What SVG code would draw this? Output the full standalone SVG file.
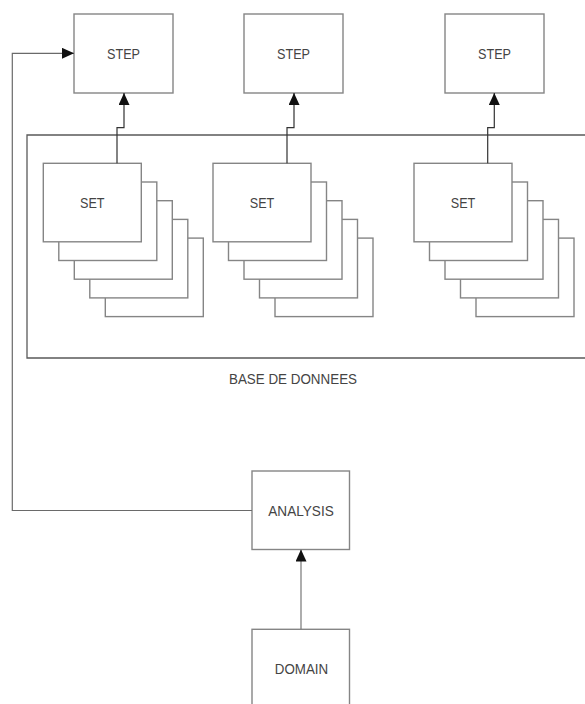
<svg xmlns="http://www.w3.org/2000/svg" width="585" height="704" viewBox="0 0 585 704">
  <style>
    .box { fill: #ffffff; stroke: #858585; stroke-width: 1.4; }
    .frame { fill: none; stroke: #5a5a5a; stroke-width: 1.3; }
    .conn { fill: none; stroke: #333333; stroke-width: 1.2; }
    .lbl { font-family: "Liberation Sans", Arial, sans-serif; font-size: 15px; fill: #444444; text-anchor: middle; dominant-baseline: central; }
  </style>
  <defs>
    <marker id="arrow" viewBox="0 0 12 11" refX="12" refY="5.5" markerWidth="12" markerHeight="11" markerUnits="userSpaceOnUse" orient="auto">
      <path d="M0,0 L12,5.5 L0,11 z" fill="#111111"/>
    </marker>
    <!-- stack of five sheets; the front one carries the label -->
    <g id="sheetStack">
      <rect class="box" x="62" y="74.8" width="98" height="78.5"/>
      <rect class="box" x="46.5" y="56.1" width="98" height="78.5"/>
      <rect class="box" x="31" y="37.4" width="98" height="78.5"/>
      <rect class="box" x="15.5" y="18.7" width="98" height="78.5"/>
      <rect class="box" x="0" y="0" width="98" height="78.5"/>
    </g>
  </defs>

  <rect width="585" height="704" fill="#ffffff"/>

  <!-- database frame, open on the right -->
  <g id="database">
    <path class="frame" d="M586,135 H27 V358 H586"/>
    <text class="lbl" x="293" y="378" textLength="128" lengthAdjust="spacingAndGlyphs">BASE DE DONNEES</text>
  </g>

  <g id="step1">
    <rect class="box" x="74" y="14" width="99" height="79"/>
    <text class="lbl" x="123.5" y="53" textLength="33" lengthAdjust="spacingAndGlyphs">STEP</text>
  </g>
  <g id="step2">
    <rect class="box" x="244" y="14" width="99" height="79"/>
    <text class="lbl" x="293.5" y="53" textLength="33" lengthAdjust="spacingAndGlyphs">STEP</text>
  </g>
  <g id="step3">
    <rect class="box" x="445" y="14" width="99" height="79"/>
    <text class="lbl" x="494.5" y="53" textLength="33" lengthAdjust="spacingAndGlyphs">STEP</text>
  </g>

  <g id="set1">
    <use href="#sheetStack" x="43.3" y="163.3"/>
    <text class="lbl" x="92.3" y="202" textLength="24.5" lengthAdjust="spacingAndGlyphs">SET</text>
  </g>
  <g id="set2">
    <use href="#sheetStack" x="213" y="163.3"/>
    <text class="lbl" x="262" y="202" textLength="24.5" lengthAdjust="spacingAndGlyphs">SET</text>
  </g>
  <g id="set3">
    <use href="#sheetStack" x="414" y="163.3"/>
    <text class="lbl" x="463" y="202" textLength="24.5" lengthAdjust="spacingAndGlyphs">SET</text>
  </g>

  <g id="analysis">
    <rect class="box" x="252" y="471" width="97.5" height="78.5"/>
    <text class="lbl" x="301" y="510.5" textLength="65.5" lengthAdjust="spacingAndGlyphs">ANALYSIS</text>
  </g>
  <g id="domain">
    <rect class="box" x="252" y="629.3" width="97.5" height="80"/>
    <text class="lbl" x="301.5" y="668" textLength="53.3" lengthAdjust="spacingAndGlyphs">DOMAIN</text>
  </g>

  <g id="connectors">
    <path class="conn" d="M117,163.3 V127.7 H124 V93" marker-end="url(#arrow)"/>
    <path class="conn" d="M287,163.3 V127.7 H294 V93" marker-end="url(#arrow)"/>
    <path class="conn" d="M487.7,163.3 V127.7 H494.3 V93" marker-end="url(#arrow)"/>
    <path class="conn" d="M301,629.3 V549.5" marker-end="url(#arrow)" style="stroke:#777777"/>
    <path class="conn" d="M252,510.5 H12.3 V53.3 H74" marker-end="url(#arrow)" style="stroke:#6a6a6a"/>
  </g>
</svg>
